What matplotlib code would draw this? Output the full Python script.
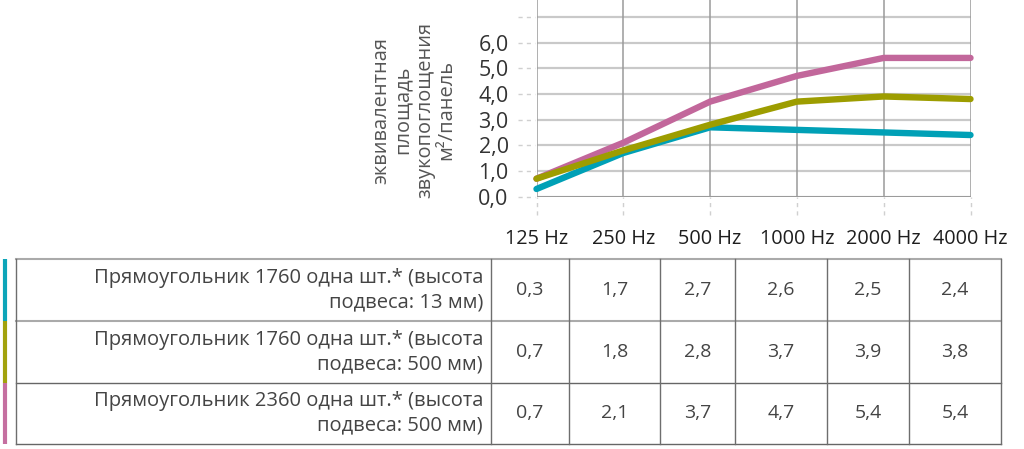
import matplotlib
matplotlib.use("Agg")
import matplotlib.pyplot as plt
import numpy as np

plt.rcParams['font.family'] = ['Open Sans', 'DejaVu Sans']

categories = ["125 Hz", "250 Hz", "500 Hz", "1000 Hz", "2000 Hz", "4000 Hz"]
series_labels = [
    "Прямоугольник 1760 одна шт.* (высота\nподвеса: 13 мм)",
    "Прямоугольник 1760 одна шт.* (высота\nподвеса: 500 мм)",
    "Прямоугольник 2360 одна шт.* (высота\nподвеса: 500 мм)",
]
s1 = [0.3, 1.7, 2.7, 2.6, 2.5, 2.4]
s2 = [0.7, 1.8, 2.8, 3.7, 3.9, 3.8]
s3 = [0.7, 2.1, 3.7, 4.7, 5.4, 5.4]
series = [s1, s2, s3]
colors = ["#00a0b6", "#9d9d00", "#c2679b"]
draw_order = [2, 0, 1]
yticks = [0, 1, 2, 3, 4, 5, 6, 7]
ytick_labels = ["0,0", "1,0", "2,0", "3,0", "4,0", "5,0", "6,0", ""]
ylabel = "эквивалентная\nплощадь\nзвукопоглощения\nм²/панель"

W, H = 1024, 449
fig = plt.figure(figsize=(W / 100, H / 100), dpi=100)

# chart axes
x0, x1 = 536.5, 970.5
ybot = 196.7
ax = fig.add_axes([x0 / W, 1 - ybot / H, (x1 - x0) / W, ybot / H])
x = np.arange(len(categories))
ax.set_xlim(0, len(categories) - 1)
ax.set_ylim(0, ybot / 25.7)
for sp in ax.spines.values():
    sp.set_visible(False)
ax.set_yticks(yticks)
ax.set_yticklabels(ytick_labels)
ax.set_xticks(x)
ax.set_xticklabels(categories)
ax.tick_params(axis='both', length=0)
ax.tick_params(axis='y', pad=20, labelsize=15.5, labelcolor="#333333")
ax.tick_params(axis='x', pad=23, labelsize=14.3, labelcolor="#1e1e1e")
for yv in yticks:
    ax.axhline(yv, color="#c9c9c9", lw=1.6, zorder=1)
ax.axhline(0, color="#9a9a9a", lw=1.4, zorder=1)
for xv in x:
    ax.axvline(xv, color="#9a9a9a", lw=1.1, zorder=1)
# dashed tick marks outside axes
ax.vlines(x, -18 / ybot, 0, transform=ax.get_xaxis_transform(), colors="#d0d0d0",
          linestyles=(0, (3, 3)), lw=1, clip_on=False)
ax.hlines(yticks, -19 / (x1 - x0), -2 / (x1 - x0), transform=ax.get_yaxis_transform(),
          colors="#d0d0d0", linestyles=(0, (3, 3)), lw=1, clip_on=False)
for k in draw_order:
    ax.plot(x, series[k], color=colors[k], lw=4.6, solid_capstyle='round',
            solid_joinstyle='round', zorder=3, clip_on=False)

fig.text(414 / W, 1 - 110 / H, ylabel, rotation=90, ha='center', va='center',
         fontsize=14.4, color="#555555", linespacing=1.12, multialignment='center')

# table drawn in pixel coordinates
tax = fig.add_axes([0, 0, 1, 1])
tax.set_xlim(0, W)
tax.set_ylim(H, 0)
tax.axis('off')
col_edges = [16, 491, 569, 660, 735, 827, 909, 1001]
row_edges = [259, 321, 382.5, 444]
row_line_colors = ["#aaaaaa", "#aaaaaa", "#666666", "#666666"]
row_line_widths = [1.5, 1.5, 1.0, 1.0]
for ye, lcol, lwid in zip(row_edges, row_line_colors, row_line_widths):
    tax.plot([col_edges[0], col_edges[-1]], [ye, ye], color=lcol, lw=lwid)
for xe in col_edges:
    tax.plot([xe, xe], [row_edges[0], row_edges[-1]], color="#6e6e6e", lw=1)
for i, (lab, s, c) in enumerate(zip(series_labels, series, colors)):
    yc = (row_edges[i] + row_edges[i + 1]) / 2
    tax.plot([5, 5], [row_edges[i], row_edges[i + 1]], color=c, lw=3, solid_capstyle='butt',
             alpha=0.95)
    tax.text(483, yc, lab, ha='right', va='center', fontsize=14.5, color="#444444",
             linespacing=1.3, multialignment='right')
    for j, v in enumerate(s):
        xc = (col_edges[j + 1] + col_edges[j + 2]) / 2
        tax.text(xc, yc, f"{v:.1f}".replace('.', ','), ha='center', va='center',
                 fontsize=14, color="#444444")

fig.savefig("out.png", dpi=100)
